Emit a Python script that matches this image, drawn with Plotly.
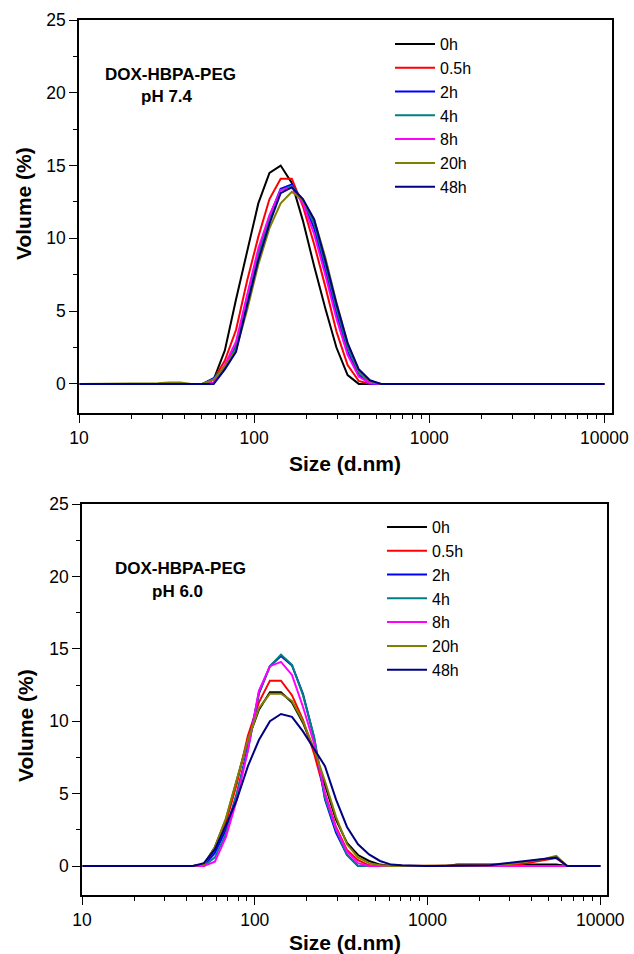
import plotly.graph_objects as go

# DLS size bins (d.nm)
size_nm = [10.1, 11.7, 13.54, 15.69, 18.17, 21.04, 24.36, 28.21, 32.67, 37.84,
           43.82, 50.75, 58.77, 68.06, 78.82, 91.28, 105.7, 122.4, 141.8, 164.2,
           190.1, 220.2, 255.0, 295.3, 342.0, 396.1, 458.7, 531.2, 615.1, 712.4,
           825.0, 955.4, 1106, 1281, 1484, 1718, 1990, 2305, 2669, 3091,
           3580, 4145, 4801, 5560, 6439, 7456, 8635, 10000]

series_names = ["0h", "0.5h", "2h", "4h", "8h", "20h", "48h"]
series_colors = ["#000000", "#FF0000", "#0000FF", "#008080", "#FF00FF", "#808000", "#000080"]

# ---- pH 7.4 (Volume %) ----
ph74_0h = [0, 0, 0, 0, 0, 0, 0, 0, 0, 0,
           0, 0, 0.3, 2.3, 5.8, 9.1, 12.4, 14.5, 15.0, 13.8,
           11.2, 8.1, 5.2, 2.5, 0.6, 0, 0, 0, 0, 0,
           0, 0, 0, 0, 0, 0, 0, 0, 0, 0,
           0, 0, 0, 0, 0, 0, 0, 0]
ph74_05h = [0, 0, 0, 0, 0, 0, 0, 0, 0, 0,
            0, 0, 0.3, 1.6, 3.7, 7.1, 10.1, 12.7, 14.1, 14.1,
            12.2, 9.6, 6.7, 3.6, 1.3, 0.2, 0, 0, 0, 0,
            0, 0, 0, 0, 0, 0, 0, 0, 0, 0,
            0, 0, 0, 0, 0, 0, 0, 0]
ph74_2h = [0, 0, 0, 0, 0, 0, 0, 0, 0, 0,
           0, 0, 0.4, 1.1, 2.6, 6.0, 9.1, 11.5, 13.4, 13.7,
           12.5, 10.7, 7.8, 4.8, 2.2, 0.6, 0, 0, 0, 0,
           0, 0, 0, 0, 0, 0, 0, 0, 0, 0,
           0, 0, 0, 0, 0, 0, 0, 0]
ph74_4h = [0, 0, 0, 0, 0, 0, 0, 0, 0, 0,
           0, 0, 0.3, 1.2, 2.5, 5.7, 8.9, 11.3, 13.3, 13.6,
           12.6, 11.0, 8.2, 5.2, 2.5, 0.8, 0.1, 0, 0, 0,
           0, 0, 0, 0, 0, 0, 0, 0, 0, 0,
           0, 0, 0, 0, 0, 0, 0, 0]
ph74_8h = [0, 0, 0, 0, 0, 0, 0, 0, 0, 0,
           0, 0, 0.1, 1.3, 2.9, 6.2, 9.3, 11.6, 13.3, 13.5,
           12.4, 10.3, 7.5, 4.5, 2.0, 0.5, 0.05, 0, 0, 0,
           0, 0, 0, 0, 0, 0, 0, 0, 0, 0,
           0, 0, 0, 0, 0, 0, 0, 0]
ph74_20h = [0, 0, 0, 0, 0, 0, 0, 0.05, 0.1, 0.1,
            0, 0, 0.3, 1.2, 2.3, 5.1, 8.2, 10.7, 12.4, 13.2,
            12.6, 11.3, 8.7, 5.6, 2.8, 0.9, 0.2, 0, 0, 0,
            0, 0, 0, 0, 0, 0, 0, 0, 0, 0,
            0, 0, 0, 0, 0, 0, 0, 0]
ph74_48h = [0, 0, 0, 0, 0, 0, 0, 0, 0, 0,
            0, 0, 0, 1.0, 2.2, 5.4, 8.5, 11.0, 13.1, 13.5,
            12.7, 11.3, 8.5, 5.5, 2.8, 1.0, 0.25, 0, 0, 0,
            0, 0, 0, 0, 0, 0, 0, 0, 0, 0,
            0, 0, 0, 0, 0, 0, 0, 0]

# ---- pH 6.0 (Volume %) ----
ph60_0h = [0, 0, 0, 0, 0, 0, 0, 0, 0, 0,
           0, 0.1, 1.3, 3.2, 5.9, 8.7, 10.8, 12.0, 12.0, 11.3,
           9.9, 8.0, 5.6, 3.2, 1.6, 0.76, 0.35, 0.1, 0, 0,
           0, 0, 0, 0, 0.1, 0.1, 0.1, 0.1, 0.1, 0.1,
           0.1, 0.1, 0.1, 0.1, 0, 0, 0, 0]
ph60_05h = [0, 0, 0, 0, 0, 0, 0, 0, 0, 0,
            0, 0, 1.2, 3.0, 5.7, 9.0, 11.3, 12.8, 12.8, 11.8,
            10.1, 7.8, 5.0, 2.7, 1.1, 0.4, 0.05, 0, 0, 0,
            0, 0, 0, 0, 0, 0, 0, 0, 0, 0.05,
            0.15, 0.3, 0.45, 0.55, 0, 0, 0, 0]
ph60_2h = [0, 0, 0, 0, 0, 0, 0, 0, 0, 0,
           0, 0, 0.9, 2.5, 5.0, 8.2, 11.9, 13.8, 14.5, 13.85,
           11.9, 8.9, 4.6, 2.3, 0.76, 0, 0, 0, 0, 0,
           0, 0, 0, 0, 0, 0, 0, 0, 0, 0,
           0, 0, 0, 0, 0, 0, 0, 0]
ph60_4h = [0, 0, 0, 0, 0, 0, 0, 0, 0, 0,
           0, 0, 0.6, 2.2, 5.0, 8.0, 12.0, 13.8, 14.6, 13.9,
           11.8, 8.95, 4.7, 2.5, 0.76, 0, 0, 0, 0, 0,
           0, 0, 0, 0, 0, 0, 0, 0, 0, 0,
           0, 0, 0, 0, 0, 0, 0, 0]
ph60_8h = [0, 0, 0, 0, 0, 0, 0, 0, 0, 0,
           0, 0, 0.3, 2.0, 4.6, 8.0, 12.1, 13.8, 14.1, 13.2,
           11.0, 8.5, 5.0, 2.6, 1.0, 0.2, 0, 0, 0, 0,
           0, 0, 0, 0, 0, 0, 0, 0, 0, 0,
           0, 0, 0, 0, 0, 0, 0, 0]
ph60_20h = [0, 0, 0, 0, 0, 0, 0, 0, 0, 0,
            0, 0.1, 1.3, 3.3, 6.0, 8.7, 10.9, 11.9, 11.9, 11.4,
            10.0, 8.1, 5.85, 3.4, 1.5, 0.6, 0.2, 0.05, 0, 0,
            0, 0, 0, 0, 0, 0, 0, 0, 0.05, 0.15,
            0.25, 0.35, 0.5, 0.7, 0, 0, 0, 0]
ph60_48h = [0, 0, 0, 0, 0, 0, 0, 0, 0, 0,
            0, 0.2, 1.15, 2.8, 4.6, 6.9, 8.7, 10.0, 10.5, 10.3,
            9.3, 8.1, 6.9, 4.6, 2.7, 1.5, 0.8, 0.35, 0.1, 0.05,
            0, 0, 0, 0, 0, 0, 0, 0.05, 0.15, 0.25,
            0.33, 0.42, 0.5, 0.58, 0, 0, 0, 0]

ph74_series = [ph74_0h, ph74_05h, ph74_2h, ph74_4h, ph74_8h, ph74_20h, ph74_48h]
ph60_series = [ph60_0h, ph60_05h, ph60_2h, ph60_4h, ph60_8h, ph60_20h, ph60_48h]

x_major = [10, 100, 1000, 10000]
x_major_text = ["10", "100", "1000", "10000"]
x_minor = [m * d for d in (10, 100, 1000) for m in range(2, 10)]
y_major = [0, 5, 10, 15, 20, 25]
y_minor = [2.5, 7.5, 12.5, 17.5, 22.5]

W, H = 634, 954
FONT = "Liberation Sans, Arial, sans-serif"


def px(x):
    return x / W


def py(y):
    return 1 - y / H


fig = go.Figure()
for vals, name, col in zip(ph74_series, series_names, series_colors):
    fig.add_trace(go.Scatter(x=size_nm, y=vals, mode="lines", name=name,
                             line=dict(color=col, width=2),
                             xaxis="x", yaxis="y", legend="legend"))
for vals, name, col in zip(ph60_series, series_names, series_colors):
    fig.add_trace(go.Scatter(x=size_nm, y=vals, mode="lines", name=name,
                             line=dict(color=col, width=2),
                             xaxis="x2", yaxis="y2", legend="legend2"))


def xax(domain, rng, anchor):
    return dict(type="log", range=rng, domain=domain, anchor=anchor, automargin=False,
                showline=True, mirror=True, linecolor="black", linewidth=1.5,
                showgrid=False, zeroline=False,
                ticks="outside", ticklen=8, tickwidth=1.2, tickcolor="black",
                tickmode="array", tickvals=x_major, ticktext=x_major_text,
                tickfont=dict(family=FONT, size=17.5, color="black"),
                minor=dict(tickmode="array", tickvals=x_minor, ticks="outside",
                           ticklen=4, tickwidth=1, tickcolor="black", showgrid=False))


def yax(domain, anchor):
    return dict(range=[-2, 25], domain=domain, anchor=anchor, automargin=False,
                showline=True, mirror=True, linecolor="black", linewidth=1.5,
                showgrid=False, zeroline=False,
                ticks="outside", ticklen=8, tickwidth=1.2, tickcolor="black",
                tickmode="array", tickvals=y_major,
                tickfont=dict(family=FONT, size=17.5, color="black"),
                minor=dict(tickmode="array", tickvals=y_minor, ticks="outside",
                           ticklen=4, tickwidth=1, tickcolor="black", showgrid=False))


def xtop(domain, rng, anchor, over):
    return dict(type="log", range=rng, domain=domain, anchor=anchor, overlaying=over,
                side="top", automargin=False, showline=False, showgrid=False,
                zeroline=False, showticklabels=False,
                ticks="inside", ticklen=4, tickwidth=1, tickcolor="black",
                tickmode="array", tickvals=x_major,
                minor=dict(tickmode="array", tickvals=x_minor, ticks="inside",
                           ticklen=2, tickwidth=1, tickcolor="black", showgrid=False))


def yright(domain, anchor, over):
    return dict(range=[-2, 25], domain=domain, anchor=anchor, overlaying=over,
                side="right", automargin=False, showline=False, showgrid=False,
                zeroline=False, showticklabels=False,
                ticks="inside", ticklen=4, tickwidth=1, tickcolor="black",
                tickmode="array", tickvals=y_major,
                minor=dict(tickmode="array", tickvals=y_minor, ticks="inside",
                           ticklen=2, tickwidth=1, tickcolor="black", showgrid=False))


legend_common = dict(xanchor="left", yanchor="top", bgcolor="rgba(0,0,0,0)",
                     borderwidth=0, font=dict(family=FONT, size=16, color="black"),
                     itemwidth=40, tracegroupgap=0)

annotations = []


def text(x, y, s, size, bold=True, angle=0):
    annotations.append(dict(x=px(x), y=py(y), xref="paper", yref="paper",
                            text=("<b>%s</b>" % s) if bold else s, showarrow=False,
                            xanchor="center", yanchor="middle", textangle=angle,
                            font=dict(family=FONT, size=size, color="black")))


text(170, 74, "DOX-HBPA-PEG", 17)
text(167, 97, "pH 7.4", 17)
text(180, 568, "DOX-HBPA-PEG", 17)
text(177, 591, "pH 6.0", 17)
text(24, 204, "Volume (%)", 21, angle=-90)
text(25, 726, "Volume (%)", 21, angle=-90)
text(345, 463, "Size (d.nm)", 21)
text(345, 942, "Size (d.nm)", 21)

top_xd, top_yd = [px(79), px(612)], [py(413), py(20)]
bot_xd, bot_yd = [px(82), px(607)], [py(895), py(504)]

fig.update_layout(
    width=W, height=H,
    margin=dict(l=0, r=0, t=0, b=0, pad=0, autoexpand=False),
    paper_bgcolor="white", plot_bgcolor="white",
    font=dict(family=FONT, color="black"),
    xaxis=xax(top_xd, [1, 4.044], "y"),
    yaxis=yax(top_yd, "x"),
    xaxis2=xax(bot_xd, [1, 4.039], "y2"),
    yaxis2=yax(bot_yd, "x2"),
    xaxis3=xtop(top_xd, [1, 4.044], "y", "x"),
    yaxis3=yright(top_yd, "x", "y"),
    xaxis4=xtop(bot_xd, [1, 4.039], "y2", "x2"),
    yaxis4=yright(bot_yd, "x2", "y2"),
    legend=dict(x=px(390), y=py(27), **legend_common),
    legend2=dict(x=px(382), y=py(510), **legend_common),
    annotations=annotations,
    showlegend=True,
)

fig.write_html("out.html", config={"displayModeBar": False},
               post_script="document.body.style.margin='0';")
